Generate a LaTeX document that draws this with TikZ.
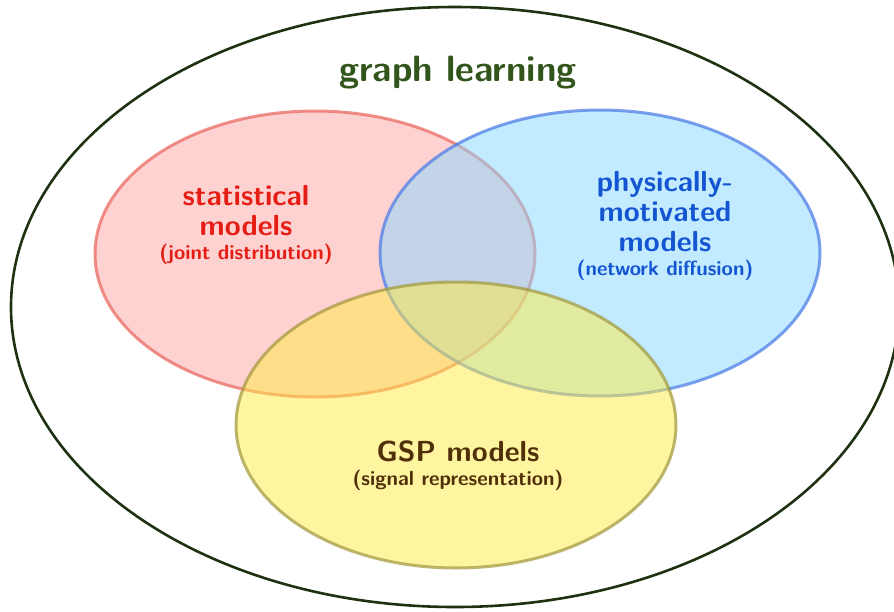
\documentclass[tikz,border=0pt]{standalone}
\usepackage{xcolor}
\definecolor{outerc}{RGB}{30,50,18}
\definecolor{titlec}{RGB}{50,85,28}
\definecolor{redfill}{RGB}{255,165,165}
\definecolor{redline}{RGB}{232,100,90}
\definecolor{redtext}{RGB}{228,30,20}
\definecolor{bluefill}{RGB}{135,215,255}
\definecolor{blueline}{RGB}{70,120,230}
\definecolor{bluetext}{RGB}{20,85,210}
\definecolor{yelfill}{RGB}{255,235,65}
\definecolor{yelline}{RGB}{160,150,60}
\definecolor{yeltext}{RGB}{80,48,8}
\begin{document}
\begin{tikzpicture}[x=1pt,y=-1pt,
  setc/.style={line width=3pt, fill opacity=0.5, draw opacity=0.7},
  bigtxt/.style={font=\sffamily\bfseries\fontsize{29}{30}\selectfont, align=center, inner sep=0pt},
  smalltxt/.style={font=\sffamily\bfseries\fontsize{20.5}{21}\selectfont, align=center, inner sep=0pt}]
\useasboundingbox (0,0) rectangle (894,611);
\begin{scope}
\clip (0,0) rectangle (894,611);
\draw[outerc, line width=2.6pt] (455,307) ellipse [x radius=444, y radius=300];
\end{scope}
\draw[setc, redline, fill=redfill] (315,254) ellipse [x radius=220, y radius=143];
\draw[setc, blueline, fill=bluefill] (600,253) ellipse [x radius=220, y radius=143];
\draw[setc, yelline, fill=yelfill] (456,425) ellipse [x radius=220, y radius=143];
\node[bigtxt, titlec, font=\sffamily\bfseries\fontsize{36.6}{38}\selectfont, anchor=base] (title) at (458,81) {graph learning};
\node[bigtxt, redtext, anchor=base] (st1) at (246,235) {statistical\\models};
\node[smalltxt, redtext, anchor=base] (st2) at (246,259) {(joint distribution)};
\node[bigtxt, bluetext, anchor=base] (ph1) at (665,251) {physically-\\motivated\\models};
\node[smalltxt, bluetext, anchor=base] (ph2) at (665,275) {(network diffusion)};
\node[bigtxt, yeltext, anchor=base] (gs1) at (458,461) {GSP models};
\node[smalltxt, yeltext, anchor=base] (gs2) at (458,485) {(signal representation)};
\end{tikzpicture}
\end{document}
